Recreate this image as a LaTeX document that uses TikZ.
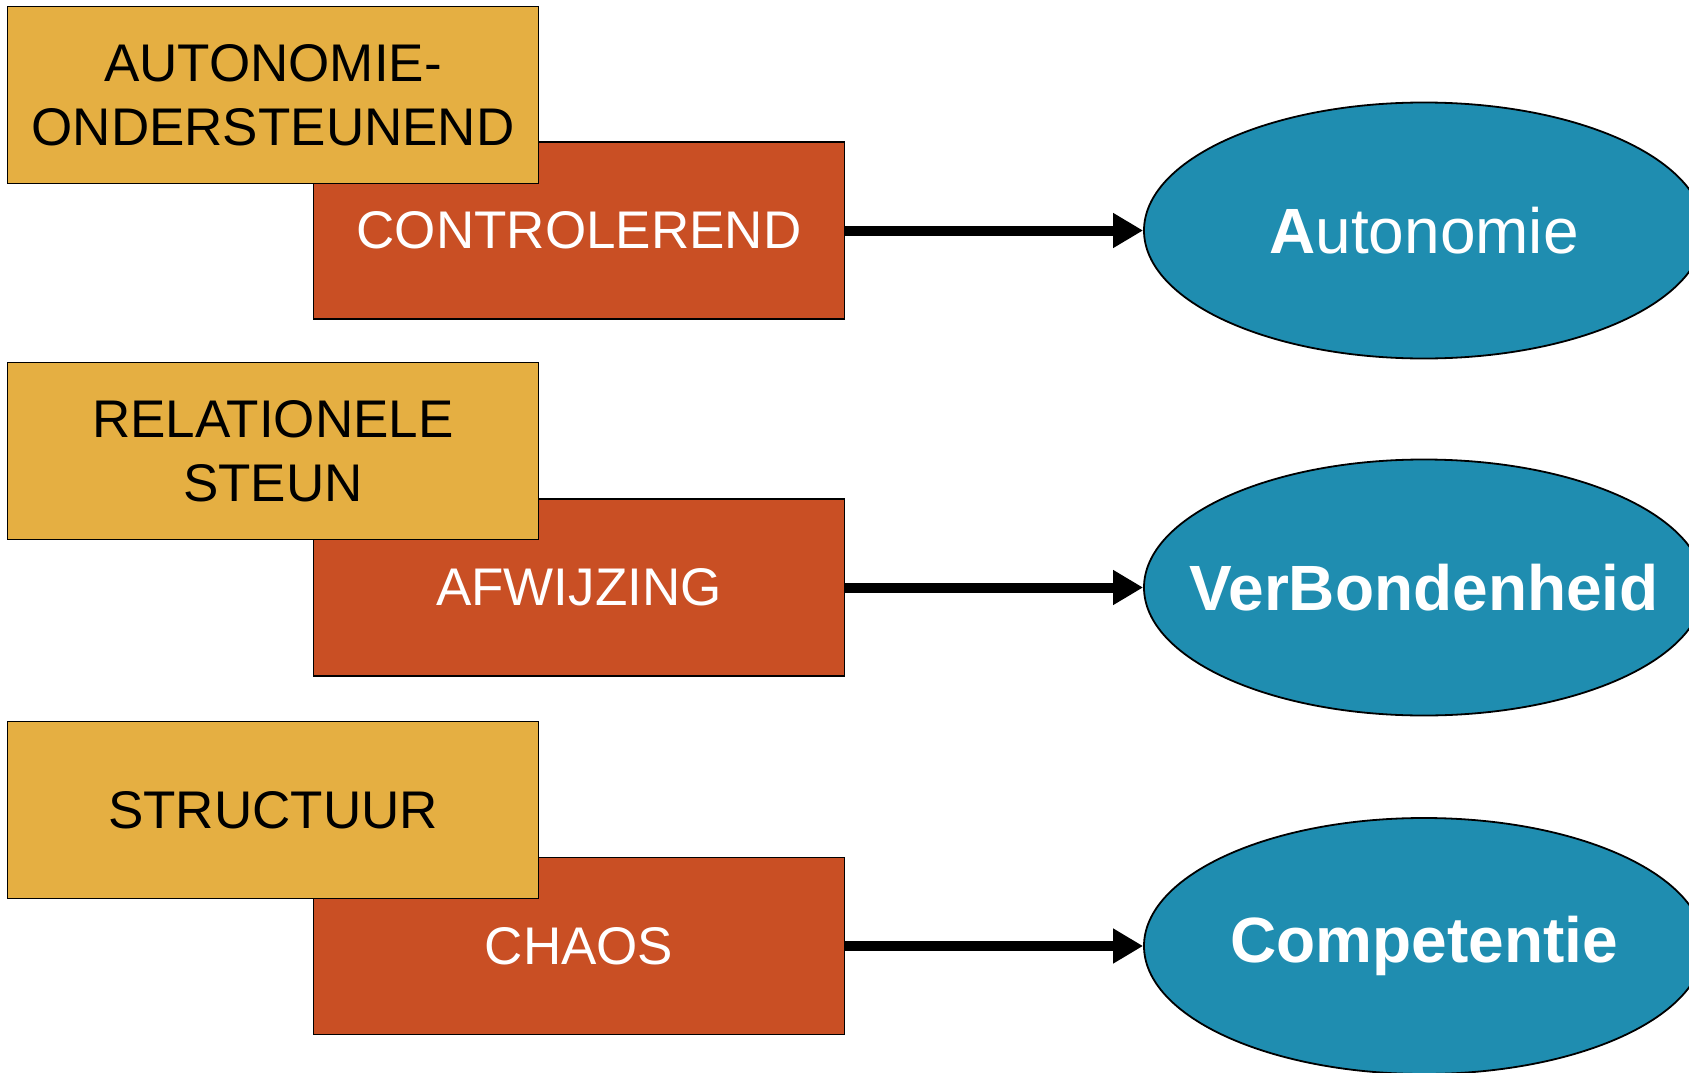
\documentclass[tikz,border=0pt]{standalone}
\usepackage{fontspec}
\setmainfont{Liberation Sans}
\usetikzlibrary{shapes.geometric,arrows.meta}
\definecolor{ygold}{HTML}{E5AF42}
\definecolor{rorange}{HTML}{C94F24}
\definecolor{tblue}{HTML}{1F8DB0}
\tikzset{
  goldbox/.style={draw=black, line width=1.6pt, fill=ygold, minimum width=531pt, minimum height=177pt, inner sep=0pt, align=center, text=black, font=\fontsize{53}{64}\selectfont},
  redbox/.style={draw=black, line width=1.6pt, fill=rorange, minimum width=531pt, minimum height=177pt, inner sep=0pt, align=center, text=white, font=\fontsize{53}{64}\selectfont},
  needoval/.style={ellipse, draw=black, line width=1.8pt, fill=tblue, minimum width=560pt, minimum height=256pt, inner sep=0pt, text=white, font=\fontsize{64}{72}\selectfont},
  linkarrow/.style={line width=10pt, -{Triangle[length=30pt,width=33pt]}}
}
\begin{document}
\begin{tikzpicture}[x=1pt,y=-1pt]
\useasboundingbox (0,0) rectangle (1689,1073);
\fill[white] (0,0) rectangle (1689,1073);
% orange boxes
\node[redbox] (o1) at (579,230.5) {CONTROLEREND};
\node[redbox] (o2) at (579,587.5) {AFWIJZING};
\node[redbox] (o3) at (579,946) {CHAOS};
% yellow boxes on top
\node[goldbox] (y1) at (273,95) {AUTONOMIE-\\ONDERSTEUNEND};
\node[goldbox] (y2) at (273,451) {RELATIONELE\\STEUN};
\node[goldbox] (y3) at (273,810) {STRUCTUUR};
% ellipses
\node[needoval] (e1) at (1424,230.5) {\makebox[0pt]{\textbf{A}utonomie}};
\node[needoval] (e2) at (1424,587.5) {\makebox[0pt]{\textbf{VerBondenheid}}};
\node[needoval] (e3) at (1424,946) {\makebox[0pt]{\textbf{Competentie}}};
% arrows
\draw[linkarrow] (o1.east) -- (e1.west);
\draw[linkarrow] (o2.east) -- (e2.west);
\draw[linkarrow] (o3.east) -- (e3.west);
\end{tikzpicture}
\end{document}
